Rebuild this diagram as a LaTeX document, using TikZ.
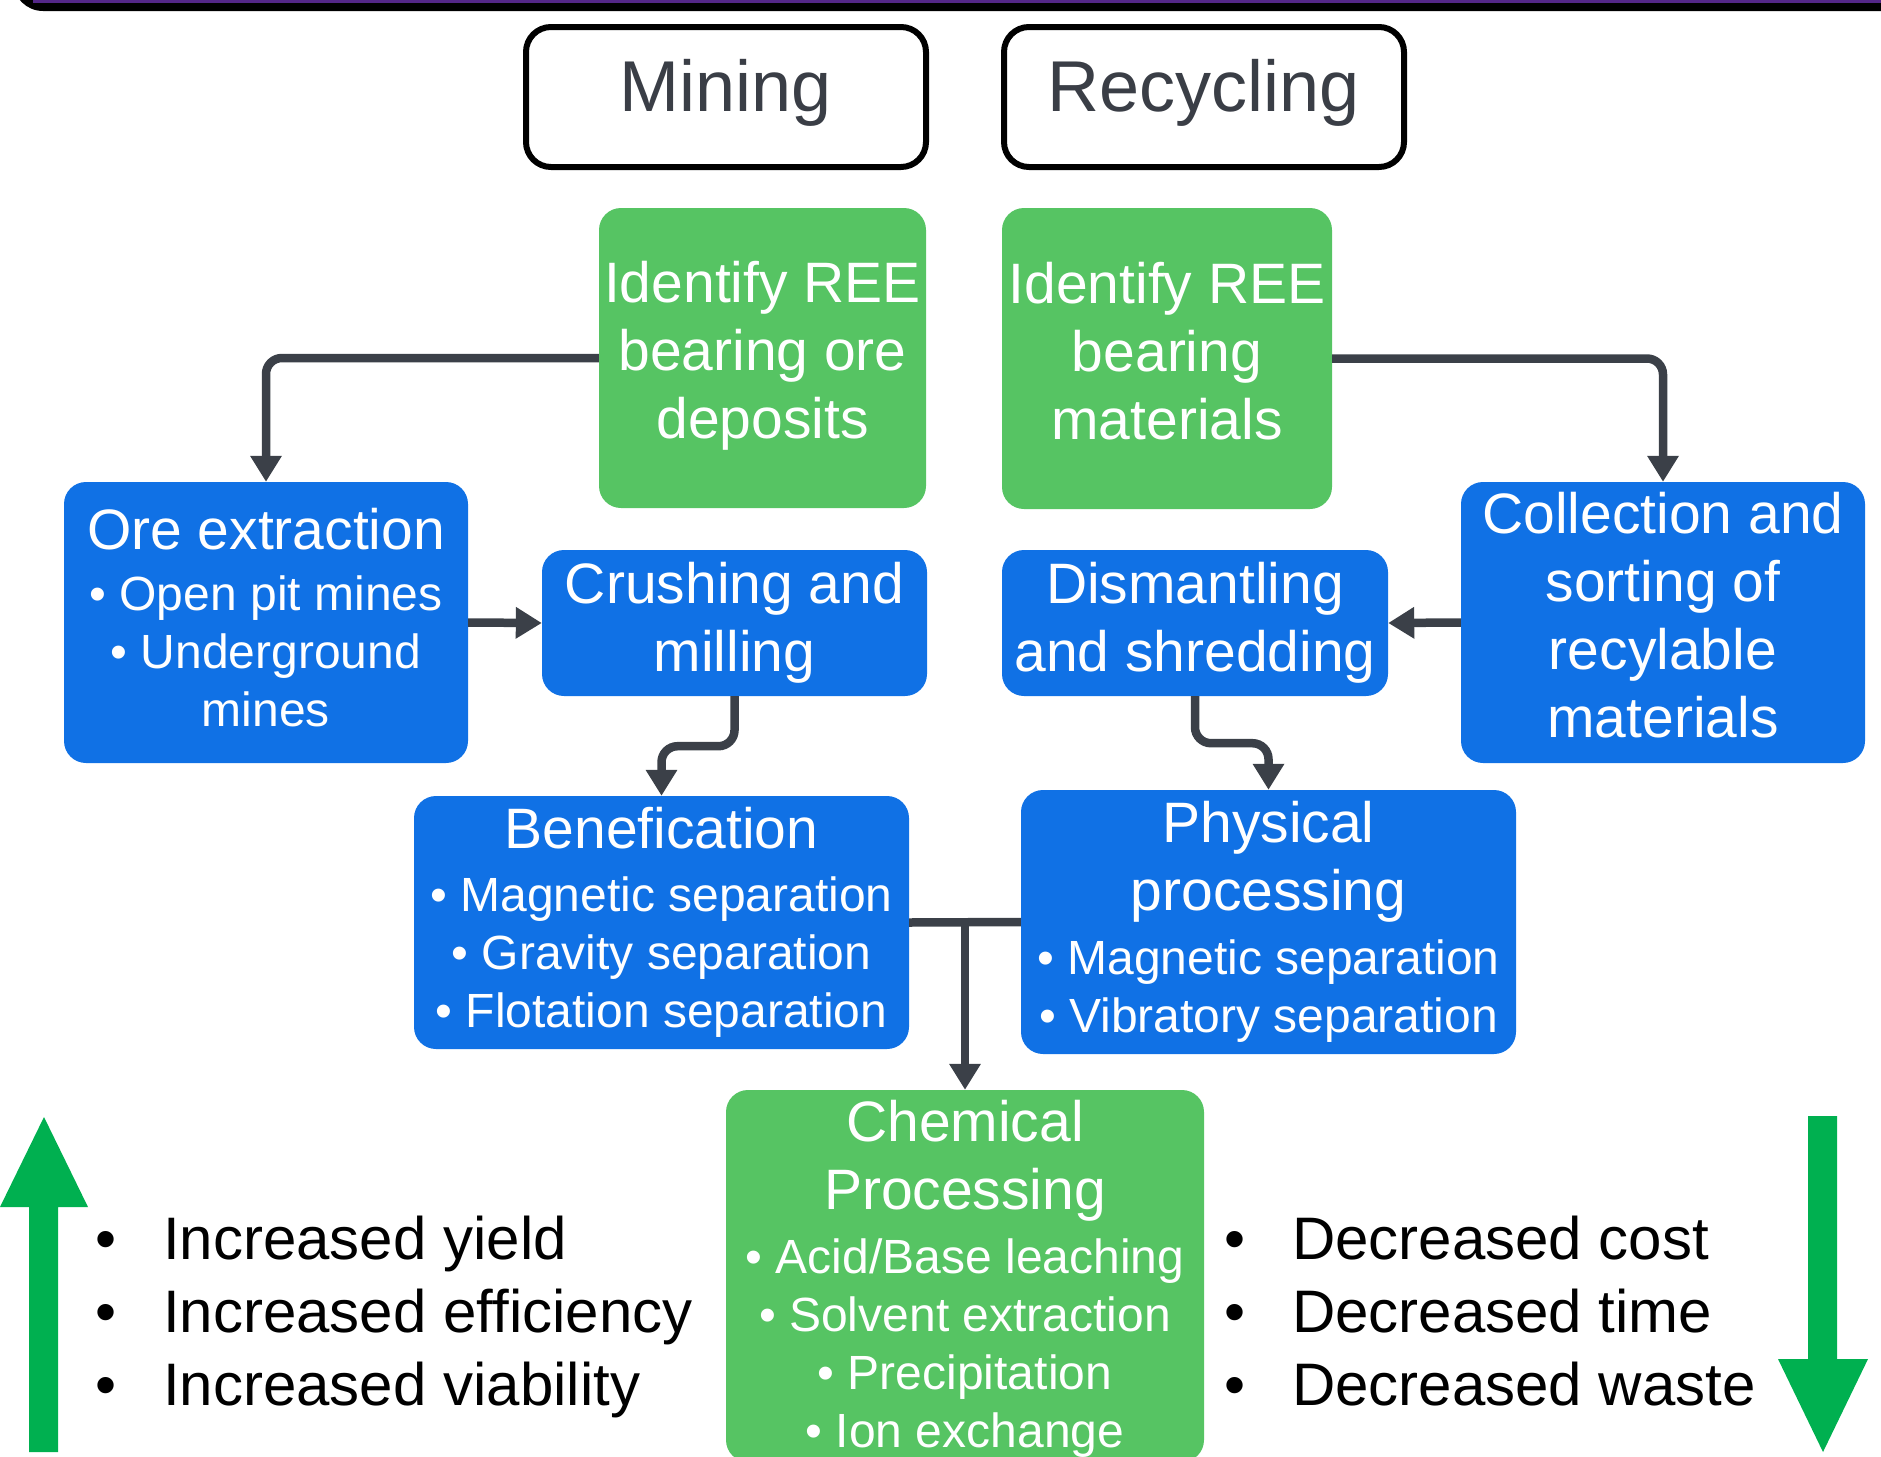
\documentclass[tikz,border=0pt]{standalone}
\usepackage{fontspec}
\setmainfont{Liberation Sans}
\usepackage{tikz}
\usepackage{xcolor}
\usetikzlibrary{calc,arrows.meta}

\definecolor{boxblue}{RGB}{16,113,229}
\definecolor{boxgreen}{RGB}{86,196,99}
\definecolor{trendgreen}{RGB}{0,176,80}
\definecolor{linkgray}{RGB}{59,64,72}
\definecolor{titlegray}{RGB}{58,62,70}
\definecolor{bandpurple}{RGB}{84,39,136}

\newcommand{\hdfont}{\fontsize{57}{68}\selectfont}
\newcommand{\bulfont}{\fontsize{48}{58}\selectfont}

\begin{document}
\begin{tikzpicture}[x=1pt, y=-1pt]
    % Styles for boxes and lines
    \tikzstyle{titlebox} = [rectangle, rounded corners=25pt, draw=black, line width=6pt, fill=white, text=titlegray, font=\fontsize{72}{86}\selectfont, inner sep=0pt, text depth=23pt]
    \tikzstyle{bluebox} = [rectangle, rounded corners=22pt, fill=boxblue, text=white, align=center, inner sep=0pt, font=\hdfont]
    \tikzstyle{greenbox} = [bluebox, fill=boxgreen]
    \tikzstyle{link} = [line width=8.5pt, draw=linkgray, rounded corners=16pt]
    \tikzstyle{flow} = [link, -{Triangle[length=26pt,width=30pt]}]
    \tikzstyle{listtext} = [font=\fontsize{60}{73}\selectfont, text=black, align=left, anchor=west, inner sep=0pt]

    \useasboundingbox (0,0) rectangle (1881,1456);
    \clip (0,0) rectangle (1881,1456);

  % Band at the top edge
    \fill[black, rounded corners=30pt] (13,-80) rectangle (1960,11);
    \fill[bandpurple] (33,-80) rectangle (1960,3);

  % Nodes with explicit coordinates
    \node[titlebox][minimum width=400pt, minimum height=140pt] (mining) at (726,97) {Mining};
    \node[titlebox][minimum width=400pt, minimum height=140pt] (recycling) at (1204,97) {Recycling};

    \node[greenbox][minimum width=327pt, minimum height=300pt, text depth=17pt] (mineid) at (762.5,358) {Identify REE\\bearing ore\\deposits};
    \node[greenbox][minimum width=330pt, minimum height=301pt, text depth=16pt] (recid) at (1167,358.5) {Identify REE\\bearing\\materials};

    \node[bluebox][minimum width=404pt, minimum height=281pt, font=\bulfont, text depth=11pt] (ore) at (266,622.5) {{\hdfont Ore extraction}\\[3pt]• Open pit mines\\• Underground\\mines};
    \node[bluebox][minimum width=385pt, minimum height=146pt] (crush) at (734.5,623) {Crushing and\\milling};
    \node[bluebox][minimum width=386pt, minimum height=146pt] (dismantle) at (1195,623) {Dismantling\\and shredding};
    \node[bluebox][minimum width=404pt, minimum height=281pt, text depth=15pt] (collect) at (1663,622.5) {Collection and\\sorting of\\recylable\\materials};

    \node[bluebox][minimum width=495pt, minimum height=253pt, font=\bulfont] (bene) at (661.5,922.5) {{\hdfont Benefication}\\[5pt]• Magnetic separation\\• Gravity separation\\• Flotation separation};
    \node[bluebox][minimum width=495pt, minimum height=264pt, font=\bulfont] (phys) at (1268.5,922) {{\hdfont Physical}\\[10pt]{\hdfont processing}\\[6pt]• Magnetic separation\\• Vibratory separation};

    \node[greenbox][minimum width=478pt, minimum height=372pt, font=\bulfont, text depth=4pt] (chem) at (965,1276) {{\hdfont Chemical}\\[10pt]{\hdfont Processing}\\[6pt]• Acid/Base leaching\\• Solvent extraction\\• Precipitation\\• Ion exchange};

  % Arrows with corners
    \draw[flow] (mineid.west) -| (ore.north);
    \draw[flow] (recid.east) -| (collect.north);
    \draw[flow] (ore.east) -- (crush.west);
    \draw[flow] (collect.west) -- (dismantle.east);
    \draw[flow] (crush.south) -- ++(0,50) -| (bene.north);
    \draw[flow] (dismantle.south) -- ++(0,47) -| (phys.north);
    \draw[link] (bene.east) -- (phys.west);
    \draw[flow] (bene.east -| chem.north) -- (chem.north);

  % Trend arrows and lists
    \fill[trendgreen] (29,1452) -- (29,1207) -- (0,1207) -- (44,1117) -- (88,1207) -- (58,1207) -- (58,1452) -- cycle;
    \fill[trendgreen] (1808,1116) -- (1837,1116) -- (1837,1359) -- (1868,1359) -- (1823,1452) -- (1778,1359) -- (1808,1359) -- cycle;

    \node[listtext] (gains) at (95,1317) {•\hspace{47pt}Increased yield\\•\hspace{47pt}Increased efficiency\\•\hspace{47pt}Increased viability};
    \node[listtext] (savings) at (1224,1311) {•\hspace{47pt}Decreased cost\\•\hspace{47pt}Decreased time\\•\hspace{47pt}Decreased waste};

\end{tikzpicture}
\end{document}
